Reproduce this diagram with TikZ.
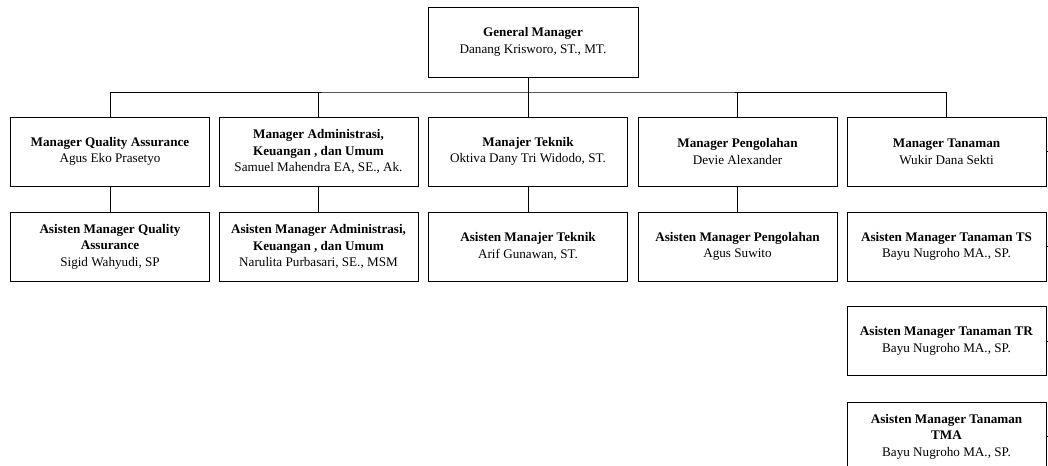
\documentclass[tikz,border=0pt]{standalone}
\usepackage{fontspec}
\setmainfont{Liberation Serif}

\begin{document}
\begin{tikzpicture}
[x=1bp, y=-1bp,
orgbox/.style={rectangle, draw=black, line width=0.8bp, minimum width=199bp, minimum height=69bp, align=center, inner sep=2bp, font=\fontsize{13.2}{16.7}\selectfont},
topbox/.style={orgbox, minimum width=210bp, minimum height=70bp},
connect/.style={line width=0.8bp}]
\useasboundingbox (0, 0) rectangle (1048, 466);

\node[topbox]	(gm) at (533, 42) {\textbf{General Manager}\\Danang Krisworo, ST., MT.};

\node[orgbox]	(mqa) at (110, 151.5) {\textbf{Manager Quality Assurance}\\Agus Eko Prasetyo};
\node[orgbox]	(madm) at (318.5, 151.5) {\textbf{Manager Administrasi,}\\\textbf{Keuangan , dan Umum}\\Samuel Mahendra EA, SE., Ak.};
\node[orgbox]	(mtek) at (528, 151.5) {\textbf{Manajer Teknik}\\Oktiva Dany Tri Widodo, ST.};
\node[orgbox]	(mpeng) at (737.5, 151.5) {\textbf{Manager Pengolahan}\\Devie Alexander};
\node[orgbox]	(mtan) at (946.5, 151.5) {\textbf{Manager Tanaman}\\Wukir Dana Sekti};

\node[orgbox]	(aqa) at (110, 246.5) {\textbf{Asisten Manager Quality}\\\textbf{Assurance}\\Sigid Wahyudi, SP};
\node[orgbox]	(aadm) at (318.5, 246.5) {\textbf{Asisten Manager Administrasi,}\\\textbf{Keuangan , dan Umum}\\Narulita Purbasari, SE., MSM};
\node[orgbox]	(atek) at (528, 246.5) {\textbf{Asisten Manajer Teknik}\\Arif Gunawan, ST.};
\node[orgbox]	(apeng) at (737.5, 246.5) {\textbf{Asisten Manager Pengolahan}\\Agus Suwito};
\node[orgbox]	(ats) at (946.5, 246.5) {\textbf{Asisten Manager Tanaman TS}\\Bayu Nugroho MA., SP.};
\node[orgbox]	(atr) at (946.5, 341) {\textbf{Asisten Manager Tanaman TR}\\Bayu Nugroho MA., SP.};
\node[orgbox]	(atma) at (946.5, 436.5) {\textbf{Asisten Manager Tanaman}\\\textbf{TMA}\\Bayu Nugroho MA., SP.};

\coordinate (bus) at (528, 92);
\coordinate (mtanR) at (1048, 151.5);
\coordinate (atsR) at (1048, 246.5);
\coordinate (atrR) at (1048, 341);
\coordinate (atmaR) at (1048, 436.5);

\draw[connect] (gm.south -| mtek.north) -- (mtek.north);
\draw[connect] (mqa.north) |- (bus) -| (mtan.north);
\draw[connect] (madm.north) -- (madm.north |- bus);
\draw[connect] (mpeng.north) -- (mpeng.north |- bus);
\draw[connect] (mqa.south) -- (aqa.north);
\draw[connect] (madm.south) -- (aadm.north);
\draw[connect] (mtek.south) -- (atek.north);
\draw[connect] (mpeng.south) -- (apeng.north);
\draw[connect] (mtan.east) -- (mtanR);
\draw[connect] (ats.east) -- (atsR);
\draw[connect] (atr.east) -- (atrR);
\draw[connect] (atma.east) -- (atmaR);

\end{tikzpicture}
\end{document}
